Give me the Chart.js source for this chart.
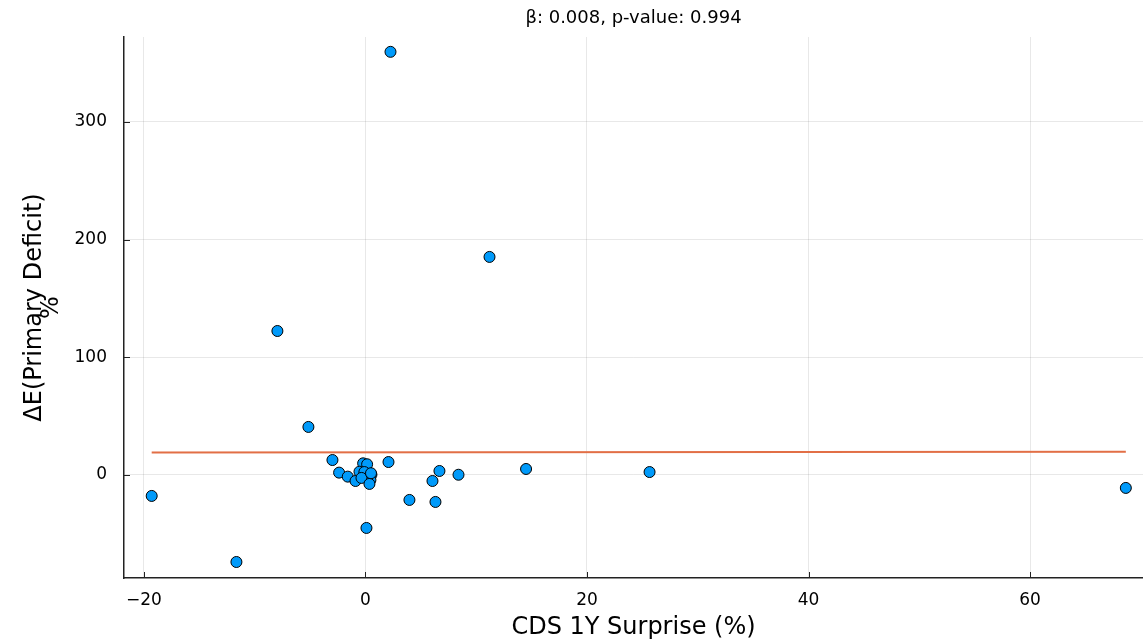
<!DOCTYPE html>
<html>
<head>
<meta charset="utf-8">
<script src="https://cdn.jsdelivr.net/npm/chart.js@4.4.1/dist/chart.umd.min.js"></script>
<style>
html,body{margin:0;padding:0;background:#fff;}
#wrap{width:1143px;height:640px;position:relative;}
</style>
</head>
<body>
<div id="wrap"><canvas id="c" width="1143" height="640"></canvas></div>
<script>
// CDS 1Y surprise (%) per observation
const xVals = [2.26, 11.2, -7.95, -5.15, -19.3, -11.65, -2.98, 2.08, 6.68, 8.4, 14.5, 25.65, 68.65, 3.97, 6.32, 6.05, 0.09,
               -0.21, 0.15, -2.38, -1.6, -0.9, -0.54, -0.1, 0.54, 0.45, -0.36, 0.36, 0.5];
// ΔE(Primary Deficit) %
const yVals = [359.4, 185.2, 122.3, 40.8, -17.8, -73.9, 12.7, 11.0, 3.4, 0.2, 5.1, 2.5, -11.0, -21.2, -22.9, -5.1, -45.0,
               9.9, 9.1, 2.0, -1.4, -5.1, 2.8, 2.5, 0.3, -4.2, -2.5, -7.6, 1.5];
// fitted regression line endpoints
const fitX = [-19.3, 68.65];
const fitY = [19.0, 19.7];
const xTicks = [-20, 0, 20, 40, 60];
const yTicks = [0, 100, 200, 300];
const xRange = [-21.8, 70.2];
const yRange = [-87.5, 372];
const titleText = 'β: 0.008, p-value: 0.994';
const xLabel = 'CDS 1Y Surprise (%)';
const yLabel = ['ΔE(Primary Deficit)', '%'];

const FONT = "'DejaVu Sans', sans-serif";

const scatterData = xVals.map((x, i) => ({x: x, y: yVals[i]}));
const lineData = fitX.map((x, i) => ({x: x, y: fitY[i]}));

const innerTicks = {
  id: 'innerTicks',
  afterLayout(chart) {
    if (chart.titleBlock) {
      chart.titleBlock.left = chart.chartArea.left;
      chart.titleBlock.right = chart.chartArea.right;
      chart.titleBlock.width = chart.chartArea.right - chart.chartArea.left;
    }
  },
  afterDatasetsDraw(chart) {
    const ctx = chart.ctx;
    const xs = chart.scales.x, ys = chart.scales.y;
    const a = chart.chartArea;
    ctx.save();
    ctx.strokeStyle = '#222';
    ctx.lineWidth = 1;
    ctx.beginPath();
    xTicks.forEach(v => {
      const px = Math.round(xs.getPixelForValue(v)) + 0.5;
      ctx.moveTo(px, a.bottom);
      ctx.lineTo(px, a.bottom - 6);
    });
    yTicks.forEach(v => {
      const py = Math.round(ys.getPixelForValue(v)) + 0.5;
      ctx.moveTo(a.left, py);
      ctx.lineTo(a.left + 6, py);
    });
    ctx.stroke();
    ctx.restore();
  }
};

new Chart(document.getElementById('c'), {
  type: 'scatter',
  data: {
    datasets: [
      {
        type: 'line',
        data: lineData,
        borderColor: '#E26F46',
        borderWidth: 2,
        pointRadius: 0,
        fill: false,
        order: 2
      },
      {
        type: 'scatter',
        data: scatterData,
        backgroundColor: '#009AFA',
        borderColor: '#000000',
        borderWidth: 1,
        pointRadius: 5.5,
        order: 1
      }
    ]
  },
  options: {
    responsive: false,
    animation: false,
    events: [],
    layout: {autoPadding: false, padding: {left: 0, right: 0, top: 0, bottom: 0}},
    plugins: {
      legend: {display: false},
      tooltip: {enabled: false},
      title: {
        display: true,
        text: titleText,
        color: '#000',
        font: {family: FONT, size: 18, weight: 'normal', lineHeight: 1.2},
        padding: {top: 8, bottom: 7.4}
      }
    },
    scales: {
      x: {
        type: 'linear',
        min: xRange[0],
        max: xRange[1],
        afterBuildTicks: s => { s.ticks = xTicks.map(v => ({value: v})); },
        afterFit: s => { s.height = 62; s.paddingLeft = 0; s.paddingRight = 0; },
        grid: {color: 'rgba(0,0,0,0.09)', lineWidth: 1, drawTicks: false},
        border: {color: '#222', width: 1.5},
        ticks: {
          color: '#000',
          padding: 12,
          font: {family: FONT, size: 17},
          callback: v => (v < 0 ? '\u2212' + Math.abs(v) : String(v))
        },
        title: {
          display: true,
          text: xLabel,
          color: '#000',
          font: {family: FONT, size: 24, lineHeight: 1},
          padding: {top: 0, bottom: 0}
        }
      },
      y: {
        type: 'linear',
        min: yRange[0],
        max: yRange[1],
        afterBuildTicks: s => { s.ticks = yTicks.map(v => ({value: v})); },
        afterFit: s => { s.width = 124; s.paddingTop = 0; s.paddingBottom = 0; },
        grid: {color: 'rgba(0,0,0,0.09)', lineWidth: 1, drawTicks: false},
        border: {color: '#222', width: 1.5},
        ticks: {
          color: '#000',
          padding: 17,
          font: {family: FONT, size: 17}
        },
        title: {
          display: true,
          text: yLabel,
          color: '#000',
          font: {family: FONT, size: 24, lineHeight: '17px'},
          padding: {top: 26, bottom: 0}
        }
      }
    }
  },
  plugins: [innerTicks]
});
</script>
</body>
</html>
